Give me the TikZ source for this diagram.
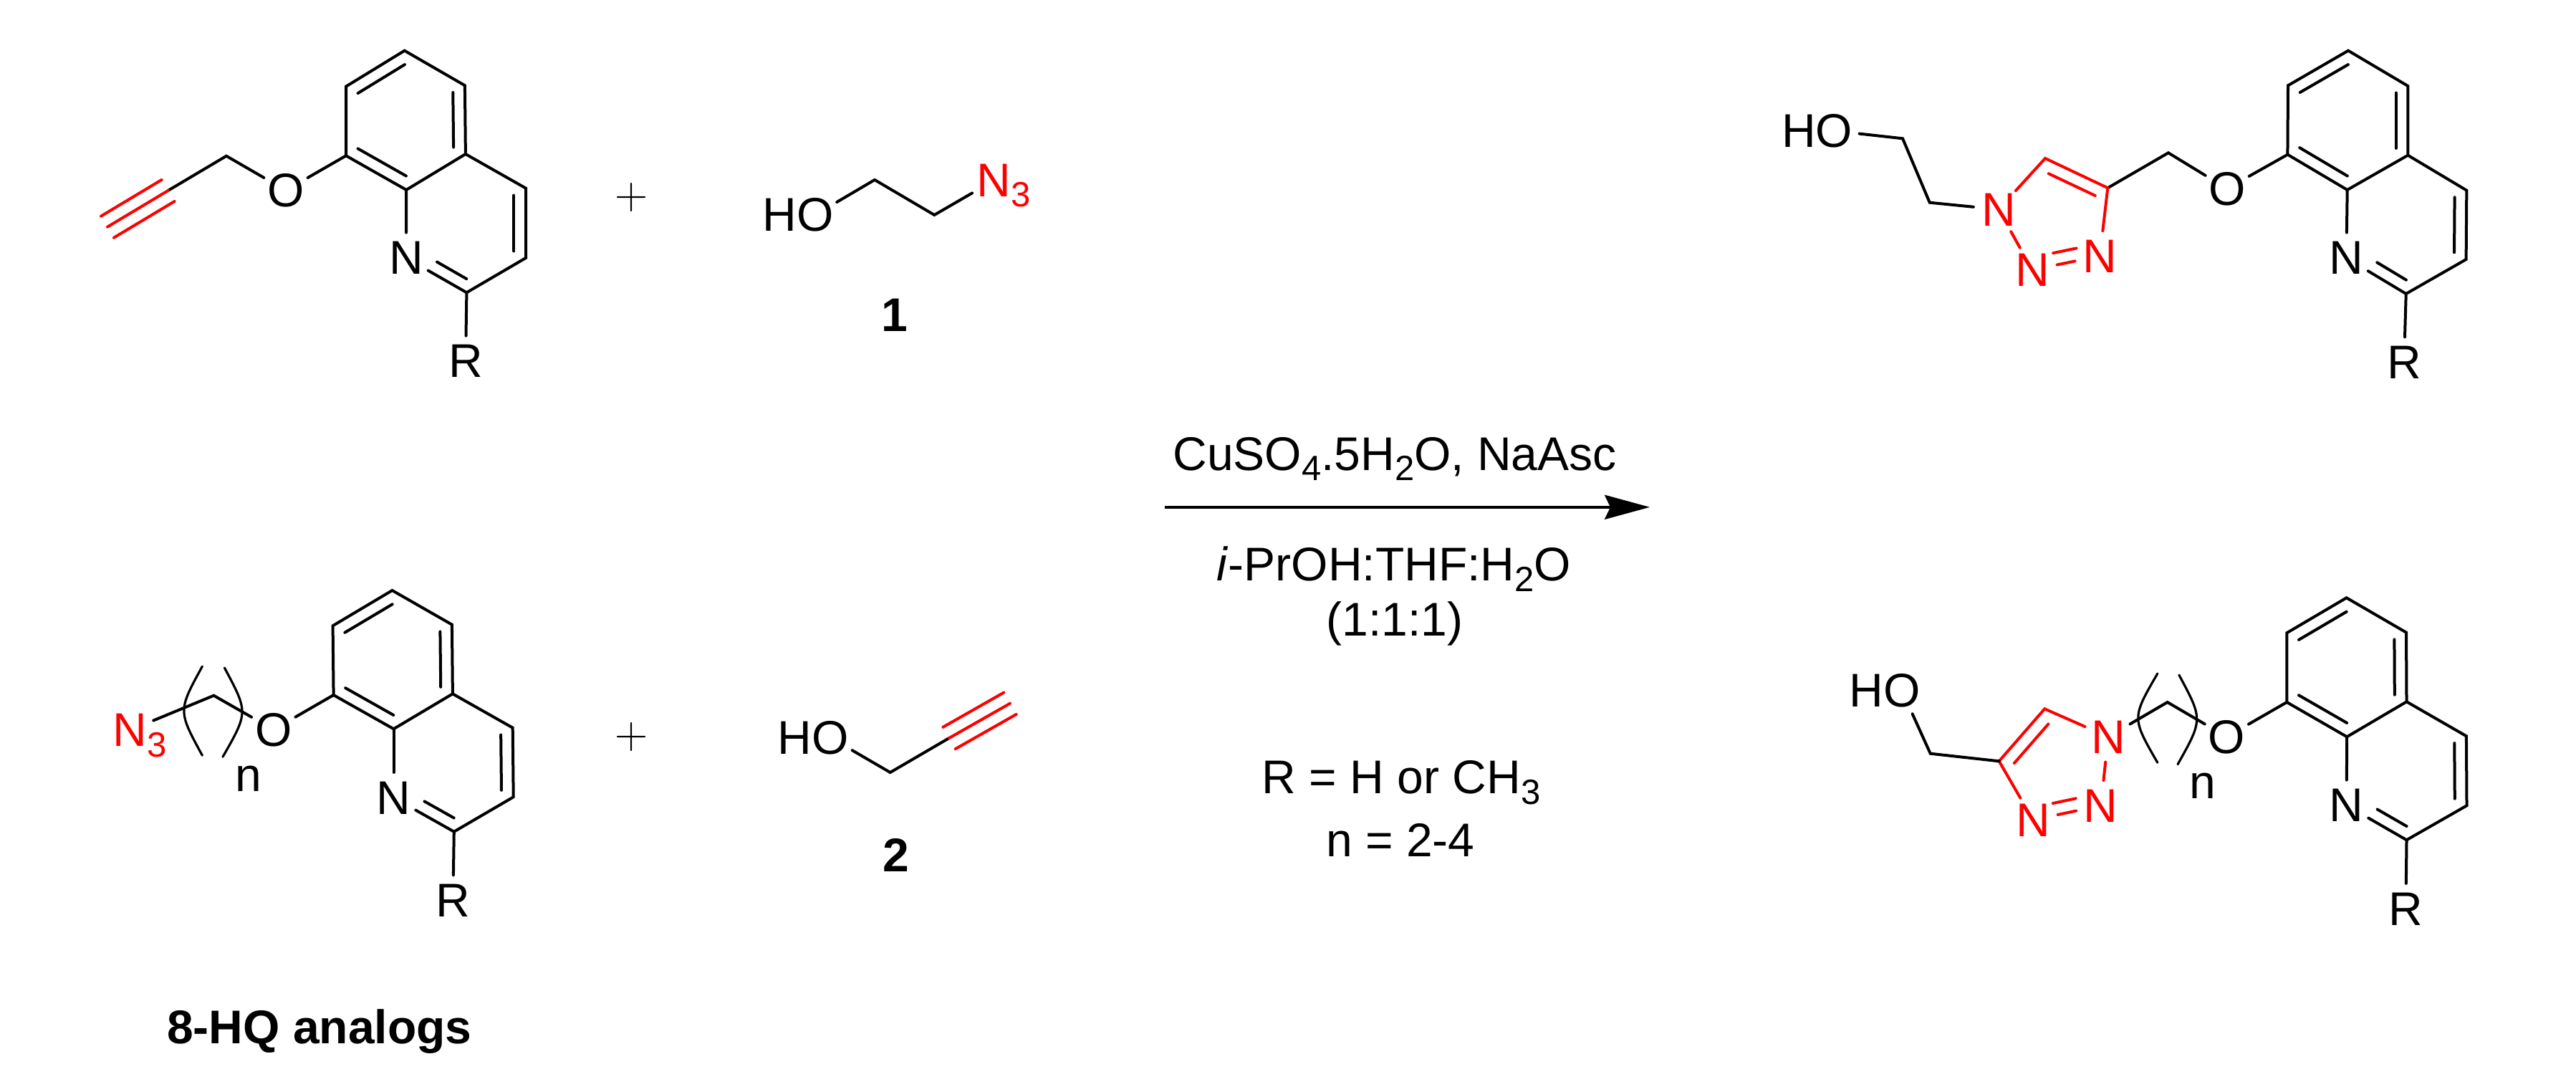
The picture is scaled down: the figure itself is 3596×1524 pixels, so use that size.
\documentclass[tikz,border=0pt]{standalone}
\usepackage{fontspec}
\setmainfont{Liberation Sans}
\newfontfamily\lmplain{Latin Modern Roman}
\usetikzlibrary{calc,arrows.meta}
\newcommand\chemtext{\fontsize{33}{36}\selectfont}
\newcommand\chemsub[1]{\raisebox{-0.22em}{\fontsize{24.5}{24.5}\selectfont #1}}
\newcommand\atomsub[1]{\smash{\rlap{\chemsub{#1}}}}
% ring drawing: expects coordinates t lt lb rt rb a c4 c3 c2 and nodes n r under prefix #1
\newcommand\quinrings[1]{%
  \coordinate (#1lc) at ($(#1t)!.5!(#1a)$);
  \coordinate (#1rc) at ($(#1a)!.5!(#1c3)$);
  \coordinate (#1i2) at ($(#1rc)!.8!(#1c2)$);
  \coordinate (#1in) at ($(#1rc)!.8!(#1n)$);
  \draw[bond] (#1lt) -- (#1t) -- (#1rt) -- (#1rb) -- (#1a) -- (#1lb) -- cycle;
  \draw[bond] (#1rb) -- (#1c4) -- (#1c3) -- (#1c2);
  \draw[bond] (#1a) -- (#1n);
  \draw[bond] (#1c2) -- (#1n);
  \draw[bond] (#1c2) -- (#1r);
  \draw[bond] ($(#1lc)!.8!(#1t)$) -- ($(#1lc)!.8!(#1lt)$);
  \draw[bond] ($(#1lc)!.8!(#1lb)$) -- ($(#1lc)!.8!(#1a)$);
  \draw[bond] ($(#1lc)!.8!(#1rt)$) -- ($(#1lc)!.8!(#1rb)$);
  \draw[bond] ($(#1rc)!.8!(#1c4)$) -- ($(#1rc)!.8!(#1c3)$);
  \draw[bond] (#1i2) -- ($(#1i2)!.61!(#1in)$);
}
% line parallel to bond #2-#3, from fraction #4 to #5, at distance #6
\newcommand\sideline[6][bond]{\draw[#1] ($(#2)!#4!(#3)!#6!90:(#3)$) -- ($(#2)!#5!(#3)!#6!-90:(#2)$);}
\tikzset{
  bond/.style={line width=2pt,line cap=round,line join=miter,draw=black},
  redbond/.style={bond,draw=red},
  brack/.style={line width=1.6pt,line cap=round,draw=black},
  atom/.style={circle,inner sep=0pt,minimum size=35pt,font=\chemtext},
  redatom/.style={atom,text=red},
  lab/.style={anchor=base,inner sep=0pt,font=\chemtext},
  boldlab/.style={anchor=base,inner sep=0pt,font=\chemtext\bfseries},
  plussign/.style={inner sep=0pt,font=\lmplain\fontsize{32}{36}\selectfont},
}
\begin{document}
\begin{tikzpicture}[x=0.5pt,y=-0.5pt]
\useasboundingbox (0,0) rectangle (3596,1524);

%% ---------- reactant A: propargyl ether
\coordinate (at) at (564.7,70.7);
\coordinate (alt) at (483,120.7);
\coordinate (alb) at (483,217.3);
\coordinate (art) at (648.9,119.3);
\coordinate (arb) at (649.9,215);
\coordinate (aa) at (567.2,265);
\coordinate (ac4) at (734,262.7);
\coordinate (ac3) at (734,360);
\coordinate (ac2) at (651.4,408.3);
\node[atom] (an) at (567,360) {N};
\node[atom] (ar) at (650,504) {R};
\quinrings{a}
\node[atom] (ao) at (399,265.7) {O};
\coordinate (ach) at (316,217.7);
\coordinate (ays) at (234.6,266);
\coordinate (aye) at (150,316.7);
\draw[bond] (alb) -- (ao);
\draw[bond] (ao) -- (ach) -- (ays);
\draw[redbond] (ays) -- (aye);
\sideline[redbond]{ays}{aye}{0}{1}{8.75pt}
\sideline[redbond]{ays}{aye}{0}{1}{-8.75pt}

\node[plussign] (plusa) at (882,276) {+};

%% ---------- azide 1
\node[atom] (bo) at (1137.7,300) {\llap{H}O};
\coordinate (bc1) at (1221,251);
\coordinate (bc2) at (1304.3,300);
\node[redatom] (bn) at (1387.7,251.7) {N\atomsub{3}};
\draw[bond] (bo) -- (bc1) -- (bc2) -- (bn);
\node[boldlab] (lab1) at (1249,462.7) {1};

%% ---------- reactant B: azidoalkyl ether
\coordinate (ct) at (547.5,824);
\coordinate (clt) at (464.6,873.3);
\coordinate (clb) at (465.6,970);
\coordinate (crt) at (630.9,871.7);
\coordinate (crb) at (631.9,968.3);
\coordinate (ca) at (549.5,1017.3);
\coordinate (cc4) at (715.7,1015.7);
\coordinate (cc3) at (716.7,1112.3);
\coordinate (cc2) at (633.8,1160.7);
\node[atom] (cn) at (549.5,1113.3) {N};
\node[atom] (cr) at (632.4,1256.7) {R};
\quinrings{c}
\node[atom] (co) at (381.8,1018.3) {O};
\coordinate (cap) at (298.4,970.7);
\node[redatom] (cn3) at (181.6,1019) {N\atomsub{3}};
\draw[bond] (clb) -- (co);
\draw[bond] (co) -- (cap) -- (cn3);
\coordinate (cbl1) at (282.4,930);
\coordinate (cbl2) at (282.4,1054.3);
\coordinate (cbr1) at (313.4,932);
\coordinate (cbr2) at (311,1056.3);
\draw[brack] (cbl1) .. controls (248.4,992) .. (cbl2);
\draw[brack] (cbr1) .. controls (346.6,994) .. (cbr2);
\node[lab] (cnn) at (346.4,1104) {n};

\node[plussign] (plusb) at (882,1028.7) {+};

%% ---------- alkyne 2
\node[atom] (do) at (1159,1029.3) {\llap{H}O};
\coordinate (dch) at (1242.7,1078);
\coordinate (dys) at (1325,1030);
\coordinate (dye) at (1410,981.7);
\draw[bond] (do) -- (dch) -- (dys);
\draw[redbond] (dys) -- (dye);
\sideline[redbond]{dys}{dye}{0}{1}{8.75pt}
\sideline[redbond]{dys}{dye}{0}{1}{-8.75pt}
\node[boldlab] (lab2) at (1251,1216) {2};

\node[boldlab] (labhq) at (446,1456.7) {8-HQ analogs};

%% ---------- arrow and conditions
\coordinate (ars) at (1625.5,707.8);
\coordinate (are) at (2303,707.8);
\draw[line width=1.7pt,-{Stealth[length=31.5pt,width=17pt,inset=4pt]}] (ars) -- (are);
\node[lab] (cond1) at (1947,656.3) {CuSO\chemsub{4}.5H\chemsub{2}O, NaAsc};
\node[lab] (cond2) at (1946,810.6) {\textit{i}-PrOH:THF:H\chemsub{2}O};
\node[lab] (cond3) at (1947,887) {(1:1:1)};
\node[lab] (cond4) at (1956,1107.8) {R = H or CH\chemsub{3}};
\node[lab] (cond5) at (1955,1195.5) {n = 2-4};

%% ---------- product E (top)
\coordinate (et) at (3278,70.7);
\coordinate (elt) at (3194,119.3);
\coordinate (elb) at (3193.4,215.7);
\coordinate (ert) at (3361.3,120);
\coordinate (erb) at (3361.3,216.7);
\coordinate (ea) at (3276.7,265);
\coordinate (ec4) at (3443.3,265.7);
\coordinate (ec3) at (3442.6,362);
\coordinate (ec2) at (3358.7,410);
\node[atom] (en) at (3275.4,360) {N};
\node[atom] (er) at (3356,505.7) {R};
\quinrings{e}
\node[atom] (eo) at (3108.8,263.3) {O};
\coordinate (eap) at (3026.9,213.3);
\coordinate (ez4) at (2942.3,262.3);
\coordinate (ez5) at (2855,221);
\node[redatom] (en1) at (2790,292.3) {N};
\node[redatom] (en2) at (2836.9,376.7) {N};
\node[redatom] (en3) at (2931.2,357.3) {N};
\coordinate (ec1) at (2693.7,282.7);
\coordinate (ec0) at (2656,193.3);
\node[atom] (eho) at (2560.4,182.7) {\llap{H}O};
\draw[bond] (elb) -- (eo);
\draw[bond] (eo) -- (eap) -- (ez4);
\draw[redbond] (en3) -- (ez4) -- (ez5) -- (en1);
\draw[redbond] (en1) -- (en2);
\draw[redbond] (en2) -- (en3);
\sideline[redbond]{ez5}{ez4}{.139}{.884}{-8.6pt}
\sideline[redbond]{en2}{en3}{.347}{.69}{8.6pt}
\draw[bond] (en1) -- (ec1) -- (ec0) -- (eho);

%% ---------- product F (bottom)
\coordinate (ft) at (3275.6,834.3);
\coordinate (flt) at (3192.3,883.3);
\coordinate (flb) at (3192.3,980);
\coordinate (frt) at (3359,882.7);
\coordinate (frb) at (3359.5,979.3);
\coordinate (fa) at (3276.2,1028.3);
\coordinate (fc4) at (3442.9,1027.3);
\coordinate (fc3) at (3443.5,1124.3);
\coordinate (fc2) at (3359.5,1172.3);
\node[atom] (fn) at (3275.6,1124) {N};
\node[atom] (fr) at (3358.4,1268.3) {R};
\quinrings{f}
\node[atom] (fo) at (3108.3,1028.3) {O};
\coordinate (fap) at (3025.6,980);
\node[redatom] (fn1) at (2942.9,1028.3) {N};
\coordinate (fz5) at (2854.2,989.3);
\coordinate (fz4) at (2790.6,1062.3);
\node[redatom] (fn2) at (2932.7,1124.3) {N};
\node[redatom] (fn3) at (2838,1144.3) {N};
\coordinate (fc1) at (2694.7,1051.7);
\node[atom] (fho) at (2655,964) {\llap{H}O};
\draw[bond] (flb) -- (fo);
\draw[bond] (fo) -- (fap) -- (fn1);
\draw[redbond] (fn1) -- (fz5) -- (fz4) -- (fn3);
\draw[redbond] (fn1) -- (fn2);
\draw[redbond] (fn2) -- (fn3);
\sideline[redbond]{fz5}{fz4}{.13}{.878}{8.9pt}
\sideline[redbond]{fn3}{fn2}{.33}{.668}{8.5pt}
\draw[bond] (fz4) -- (fc1) -- (fho);
\coordinate (fbl1) at (3011.8,940);
\coordinate (fbl2) at (3011.8,1064.3);
\coordinate (fbr1) at (3041.8,942);
\coordinate (fbr2) at (3040,1066.7);
\draw[brack] (fbl1) .. controls (2975.8,1002) .. (fbl2);
\draw[brack] (fbr1) .. controls (3075.2,1004) .. (fbr2);
\node[lab] (fnn) at (3074.8,1114.3) {n};
\end{tikzpicture}
\end{document}
